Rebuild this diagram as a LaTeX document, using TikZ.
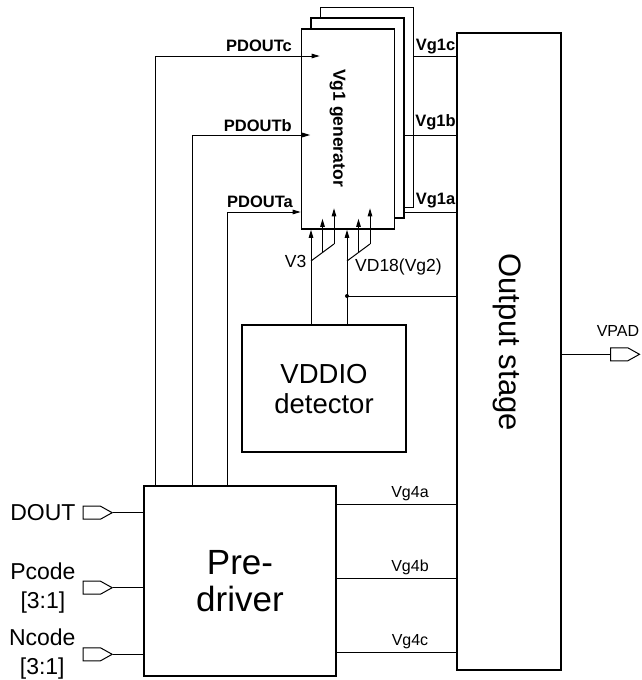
\documentclass[tikz,border=0pt]{standalone}
\usepackage{fontspec}
\setmainfont{Liberation Sans}
\usetikzlibrary{arrows.meta, positioning, calc, shapes.symbols}

\begin{document}
\begin{tikzpicture}[x=1pt, y=-1pt,
  box/.style={draw, rectangle, fill=white, line width=1.6pt, inner sep=0pt},
  genbox/.style={box, minimum width=93pt, minimum height=200pt},
  pin/.style={draw, signal, signal to=east, signal pointer angle=58, fill=white, anchor=west,
              line width=1pt, minimum width=29pt, minimum height=13pt, inner sep=0pt},
  lbl/.style={font=\fontsize{16.5}{18}\selectfont\bfseries, inner sep=0pt},
  slbl/.style={font=\fontsize{16}{18}\selectfont, inner sep=0pt},
  inlbl/.style={font=\fontsize{23}{29}\selectfont, align=center, inner sep=0pt},
  wire/.style={line width=1pt},
  sig/.style={-{Triangle[length=8pt,width=4.5pt]}, line width=1pt},
]
\useasboundingbox (0,0) rectangle (641,680);

%% ---- Blocks ----
\node[genbox] (gen3) at (367,107.5) {};
\node[genbox] (gen2) at (357.5,118) {};
\node[genbox] (gen1) at (348,129) {};
\node[font=\fontsize{17.5}{18}\selectfont\bfseries, rotate=-90] (gentxt) at (337.5,128) {Vg1 generator};

\node[box, minimum width=104pt, minimum height=637pt] (out) at (509,351.4) {};
\node[font=\fontsize{31}{34}\selectfont, rotate=-90] (outtxt) at (507,342) {Output stage};

\node[box, minimum width=164pt, minimum height=127pt, align=center,
      font=\fontsize{27.5}{30}\selectfont] (det) at (324,388.7) {VDDIO\\detector};

\node[box, minimum width=192pt, minimum height=190pt, align=center,
      font=\fontsize{35}{37}\selectfont] (drv) at (240,581) {Pre-\\driver};

%% ---- Pads ----
\node[pin] (dpin) at (82.7,512.7) {};
\node[pin] (ppin) at (82.7,587.7) {};
\node[pin] (npin) at (82.7,654.3) {};
\node[pin] (vpin) at (610,354.3) {};

\node[inlbl, left=7pt of dpin] (dlbl) {DOUT};
\node[inlbl, left=7pt of ppin] (plbl) {Pcode\\{[3:1]}};
\node[inlbl, left=7pt of npin] (nlbl) {Ncode\\{[3:1]}};
\node[slbl, anchor=base] (vlbl) at (618,336.7) {VPAD};

\draw[wire] (dpin.east) -- (drv.west |- dpin.east);
\draw[wire] (ppin.east) -- (drv.west |- ppin.east);
\draw[wire] (npin.east) -- (drv.west |- npin.east);
\draw[wire] (out.east |- vpin.west) -- (vpin.west);

%% ---- PDOUT feeds to Vg1 generator ----
\coordinate (rc) at (0,56);
\coordinate (rb) at (0,135);
\coordinate (ra) at (0,212);
\coordinate (cc) at (155,0);
\coordinate (cb) at (192,0);
\coordinate (ca) at (227,0);

\draw[sig] (drv.north -| cc) |- (gen3.west |- rc);
\draw[sig] (drv.north -| cb) |- (gen2.west |- rb);
\draw[sig] (drv.north -| ca) |- (gen1.west |- ra);

\node[lbl, anchor=base east] at (292,51.7)  {PDOUTc};
\node[lbl, anchor=base east] at (292,131.7) {PDOUTb};
\node[lbl, anchor=base east] at (293,207.3) {PDOUTa};

%% ---- Vg1 outputs ----
\draw[wire] (gen3.east |- rc) -- (out.west |- rc);
\draw[wire] (gen2.east |- rb) -- (out.west |- rb);
\draw[wire] (gen2.east |- ra) -- (out.west |- ra);

\node[lbl, anchor=base] at (435.5,50)    {Vg1c};
\node[lbl, anchor=base] at (435.5,126.7) {Vg1b};
\node[lbl, anchor=base] at (435.5,204)   {Vg1a};

%% ---- Vg4 outputs ----
\coordinate (r4a) at (0,504);
\coordinate (r4b) at (0,578);
\coordinate (r4c) at (0,652);
\draw[wire] (drv.east |- r4a) -- (out.west |- r4a);
\draw[wire] (drv.east |- r4b) -- (out.west |- r4b);
\draw[wire] (drv.east |- r4c) -- (out.west |- r4c);

\node[slbl, anchor=base] at (410,497.3) {Vg4a};
\node[slbl, anchor=base] at (410,571.7) {Vg4b};
\node[slbl, anchor=base] at (410,645.7) {Vg4c};

%% ---- V3 and VD18 supplies ----
\coordinate (v3lo) at (311,261);
\coordinate (v3hi) at (334,244);
\coordinate (v3mid) at ($(v3lo)!.5!(v3hi)$);
\draw[sig] (det.north -| v3lo) -- (gen1.south -| v3lo);
\draw[wire] (v3lo) -- (v3hi);
\draw[sig] (v3mid) -- (v3mid |- gen2.south);
\draw[sig] (v3hi) -- (v3hi |- gen3.south);

\coordinate (vdlo) at (347,261);
\coordinate (vdhi) at (370,244);
\coordinate (vdmid) at ($(vdlo)!.5!(vdhi)$);
\draw[sig] (det.north -| vdlo) -- (gen1.south -| vdlo);
\draw[wire] (vdlo) -- (vdhi);
\draw[sig] (vdmid) -- (vdmid |- gen2.south);
\draw[sig] (vdhi) -- (vdhi |- gen3.south);

\node[slbl, font=\fontsize{17.5}{18}\selectfont, anchor=base east] at (306.5,267) {V3};
\node[slbl, font=\fontsize{17.5}{18}\selectfont, anchor=base west] at (355,271) {VD18(Vg2)};

\coordinate (vdtap) at (347,296);
\fill (vdtap) circle (2pt);
\draw[wire] (vdtap) -- (out.west |- vdtap);
\end{tikzpicture}
\end{document}
